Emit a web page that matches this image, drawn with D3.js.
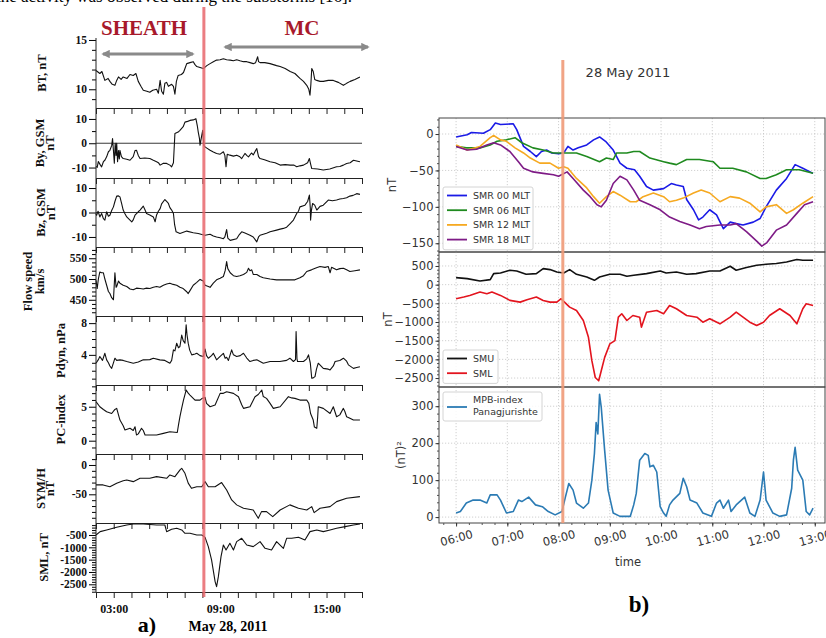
<!DOCTYPE html>
<html><head><meta charset="utf-8">
<script src="https://cdn.jsdelivr.net/npm/d3@7/dist/d3.min.js"></script>
<style>
body{margin:0;background:#fff}
svg{display:block}
</style></head><body>
<svg width="826" height="638"></svg>
<script>
// ---------- data, left figure: [minute of day, value] ----------
var bt = [[120,11.9],[133,11.6],[140,11.8],[150,10.9],[161,11.1],[167,10.8],[175,10.5],[184,10.4],[190,10.9],[196,11.25],[205,11.0],[212,11.25],[225,11.1],[235,11.5],[246,11.4],[255,11.6],[263,10.8],[272,10.3],[280,9.9],[292,9.8],[302,9.7],[312,9.9],[325,10.0],[331,9.6],[337,10.9],[342,9.8],[348,9.5],[353,10.6],[359,10.7],[365,10.3],[376,10.5],[382,10.3],[387,9.5],[392,10.8],[398,11.4],[409,11.5],[416,11.7],[421,12.1],[427,12.6],[438,12.7],[449,12.8],[455,12.5],[461,12.3],[472,12.2],[483,12.1],[495,12.4],[506,12.6],[517,12.8],[528,12.96],[540,13.0],[551,13.1],[562,13.0],[574,12.96],[585,12.9],[596,13.0],[607,12.9],[619,12.8],[630,12.8],[641,12.7],[652,12.6],[660,12.7],[667,13.3],[670,12.8],[675,12.7],[691,12.7],[709,12.6],[731,12.4],[743,12.3],[760,12.1],[777,11.8],[793,11.6],[810,11.1],[822,10.8],[833,10.4],[840,10.0],[844,9.4],[847,10.5],[850,12.1],[855,11.8],[860,11.0],[867,10.9],[878,10.8],[889,10.8],[906,10.9],[923,10.9],[940,10.7],[957,10.4],[968,10.6],[980,10.8],[996,11.0],[1013,11.25]];
var by = [[120,-9.5],[124,-9.9],[128,-7.5],[134,-8.8],[139,-9.7],[145,-7.6],[150,-7.0],[156,-5.6],[162,-3.5],[167,-2.9],[173,-1.0],[176,1.9],[179,-3.0],[182,-8.2],[185,0.0],[188,-5.0],[190,0.0],[193,-7.6],[196,-3.0],[199,-6.5],[201,-2.9],[206,-5.5],[212,-6.3],[224,-6.6],[235,-7.0],[246,-5.5],[252,-3.0],[257,-2.9],[263,-5.0],[269,-6.3],[285,-6.1],[302,-6.3],[314,-7.0],[325,-7.6],[331,-8.0],[337,-9.0],[348,-8.2],[359,-8.3],[370,-9.0],[376,-9.7],[382,-8.0],[387,4.0],[398,4.6],[404,5.3],[415,6.8],[421,8.7],[430,9.0],[438,9.4],[449,9.6],[458,10.1],[463,7.0],[466,4.6],[470,2.0],[472,-0.8],[476,2.0],[481,5.3],[485,-1.0],[489,-1.5],[495,-2.0],[506,-2.9],[517,-3.6],[528,-4.2],[540,-4.5],[551,-3.5],[556,-5.0],[560,-9.7],[564,-4.5],[573,-4.9],[585,-5.3],[596,-4.9],[607,-5.6],[613,-6.3],[624,-4.2],[630,-5.0],[636,-5.6],[646,-4.0],[652,-4.8],[660,-3.0],[664,-2.2],[670,-5.5],[675,-6.3],[690,-6.8],[709,-7.6],[726,-8.0],[743,-9.0],[760,-8.8],[777,-9.0],[790,-9.0],[799,-9.7],[810,-9.3],[822,-9.0],[836,-8.0],[842,-6.3],[847,-9.0],[850,-10.4],[870,-10.6],[889,-11.0],[911,-10.6],[934,-9.7],[945,-9.6],[957,-9.0],[968,-8.3],[980,-8.0],[991,-7.0],[1002,-7.3],[1013,-7.6]];
var bz = [[120,-0.5],[122,-1.1],[127,0.5],[133,-1.8],[139,-0.4],[145,-2.5],[150,-3.1],[156,0.3],[162,-1.5],[167,-1.1],[173,0.8],[179,2.3],[184,4.5],[190,6.7],[196,6.8],[201,6.4],[207,3.5],[212,1.0],[218,-0.5],[224,-1.8],[230,-2.5],[241,-3.8],[246,-3.0],[252,-1.1],[263,0.3],[269,1.0],[280,2.6],[286,1.0],[291,-0.4],[302,-1.0],[314,-1.8],[320,-3.8],[325,-1.0],[331,0.5],[337,1.6],[342,3.5],[353,5.3],[359,4.5],[365,3.7],[370,2.0],[376,1.0],[382,-0.4],[386,-5.0],[391,-7.9],[404,-8.6],[427,-7.6],[449,-8.3],[466,-8.6],[478,-9.0],[489,-9.3],[506,-8.9],[517,-9.6],[528,-10.0],[540,-10.3],[551,-10.7],[556,-10.0],[562,-7.0],[566,-10.5],[574,-11.4],[596,-10.7],[605,-9.0],[613,-7.9],[624,-8.4],[641,-9.3],[652,-10.0],[664,-12.0],[670,-10.0],[675,-9.3],[697,-8.5],[709,-7.9],[731,-7.2],[743,-6.8],[754,-6.5],[765,-6.0],[777,-4.5],[788,-3.1],[799,-0.4],[805,0.5],[810,2.3],[827,3.0],[836,4.5],[842,7.1],[845,2.0],[846,-3.1],[849,1.0],[853,3.7],[860,3.0],[867,1.0],[878,2.5],[889,3.0],[906,5.1],[920,4.8],[934,5.1],[945,5.5],[957,5.7],[968,6.0],[979,6.7],[990,7.0],[1002,7.7],[1013,7.4]];
var flow = [[120,497],[124,477],[128,500],[133,517],[139,515],[145,515],[150,500],[156,485],[162,470],[167,465],[173,455],[179,450],[184,515],[188,480],[190,482],[196,495],[201,490],[212,485],[224,482],[235,476],[246,474],[257,478],[269,477],[280,476],[291,478],[302,477],[314,480],[325,482],[336,480],[348,485],[359,488],[370,490],[381,487],[393,485],[404,480],[415,477],[426,470],[432,465],[438,472],[449,485],[461,492],[472,499],[483,495],[489,485],[500,482],[506,480],[517,490],[528,498],[540,502],[551,506],[557,520],[562,542],[566,525],[574,515],[585,508],[596,506],[607,508],[619,511],[630,516],[636,526],[641,520],[647,522],[652,511],[664,511],[675,506],[686,503],[709,500],[731,498],[754,498],[776,498],[793,498],[810,503],[822,508],[833,518],[849,522],[866,527],[878,530],[895,528],[906,530],[912,515],[917,528],[934,522],[945,525],[957,526],[968,522],[979,518],[996,520],[1013,522]];
var pdyn = [[120,2.95],[128,3.4],[133,3.8],[142,3.3],[150,4.2],[156,3.37],[162,3.0],[167,2.6],[173,2.3],[179,3.0],[184,3.58],[190,3.3],[201,3.37],[212,3.3],[224,3.16],[246,2.95],[263,3.1],[280,3.37],[302,3.4],[314,3.58],[336,3.37],[353,3.3],[370,2.95],[376,3.3],[382,4.63],[387,4.5],[393,5.47],[399,4.9],[404,5.05],[410,6.5],[415,5.8],[421,5.47],[425,7.8],[428,6.5],[432,5.47],[437,4.6],[444,4.0],[455,4.1],[461,4.2],[472,3.9],[483,3.79],[489,4.72],[494,3.9],[500,3.58],[511,3.9],[517,4.2],[528,3.37],[540,3.8],[551,4.2],[557,3.58],[562,3.7],[568,3.3],[579,4.63],[585,4.0],[596,3.79],[608,3.9],[619,4.2],[630,3.6],[641,3.16],[652,3.3],[664,3.37],[675,3.16],[686,2.95],[709,3.16],[742,3.16],[765,3.3],[776,3.58],[788,3.16],[795,3.4],[797,6.95],[800,3.5],[802,3.16],[822,3.16],[833,3.5],[839,4.0],[845,3.0],[850,1.05],[855,1.1],[861,1.26],[866,2.2],[872,2.95],[889,2.3],[906,2.2],[912,2.1],[923,2.6],[929,3.16],[945,3.3],[957,3.58],[968,3.2],[974,2.74],[991,2.3],[1002,2.4],[1013,2.5]];
var pc = [[120,5.74],[133,5.0],[145,4.6],[156,4.26],[173,4.0],[184,4.6],[190,4.76],[201,3.04],[212,2.2],[218,1.57],[235,1.82],[246,1.5],[252,2.06],[257,0.84],[263,1.0],[274,1.82],[280,1.5],[286,0.84],[302,0.84],[325,0.84],[348,1.08],[370,1.32],[395,1.2],[399,2.3],[404,3.53],[410,4.8],[416,5.98],[425,7.46],[432,7.0],[438,6.72],[455,5.98],[472,5.98],[478,6.2],[489,6.37],[494,5.5],[506,5.0],[523,5.25],[540,6.97],[551,6.97],[562,7.2],[585,6.97],[602,6.48],[613,5.3],[619,4.76],[641,5.0],[658,6.48],[669,6.8],[681,7.46],[686,6.5],[697,6.23],[709,5.5],[720,4.76],[743,5.0],[771,6.48],[782,6.3],[793,6.23],[810,5.98],[833,5.98],[840,5.5],[846,4.0],[855,3.04],[859,2.0],[867,1.82],[870,3.5],[872,5.0],[889,4.76],[912,4.0],[923,5.0],[934,3.53],[945,3.8],[957,4.76],[962,4.3],[968,3.53],[979,3.3],[991,3.04],[1013,3.04]];
var symh = [[120,-34],[144,-34],[167,-37],[190,-31],[212,-27],[224,-25.6],[246,-28.4],[269,-22.7],[302,-22.7],[325,-19.9],[359,-22.7],[370,-17],[387,-19.9],[405,-8],[410,-5.7],[421,-14.2],[432,-31],[443,-39.8],[461,-37],[478,-37],[489,-28.4],[500,-37],[523,-37],[545,-30],[562,-42.6],[579,-59.6],[596,-68],[619,-73.8],[652,-76.7],[669,-90.9],[680,-79.5],[697,-79.5],[718,-88],[743,-76.7],[776,-68],[805,-73.8],[833,-76.7],[850,-71],[858,-81.2],[878,-73.8],[912,-71],[934,-62.5],[968,-56.8],[1013,-54]];
var smlA = [[120,-500],[134,-365],[156,-297],[190,-189],[224,-95],[246,-54],[280,-54],[325,-95],[353,-95],[359,-365],[376,-270],[393,-230],[410,-297],[421,-432],[438,-432],[461,-500],[478,-500],[489,-595],[500,-973],[511,-1512],[523,-2390],[528,-2594],[534,-2189],[543,-1379],[551,-905],[560,-1107],[573,-835],[585,-1107],[596,-770],[613,-635],[630,-905],[652,-973],[675,-770],[692,-1040],[714,-1107],[731,-770],[754,-1040],[765,-635],[782,-635],[805,-595],[827,-703],[844,-365],[867,-297],[889,-365],[912,-297],[934,-230],[963,-162],[991,-95],[1013,-54]];

// ---------- data, right figure ----------
var smr00 = [[360,-4],[373,-1],[378,2],[392,1],[400,6],[406,15],[412,13],[427,14],[431,6],[439,-17],[447,-24],[454,-31],[460,-24],[466,-22],[472,-26],[480,-27],[486,-26],[491,-17],[497,-22],[503,-19],[513,-15],[521,-8],[528,-4],[535,-10],[544,-22],[552,-40],[560,-47],[569,-49],[575,-58],[583,-72],[591,-77],[603,-75],[612,-68],[618,-70],[626,-72],[630,-90],[638,-104],[644,-118],[649,-114],[657,-104],[665,-111],[673,-130],[681,-121],[688,-123],[696,-125],[708,-121],[716,-116],[723,-100],[735,-77],[747,-61],[757,-42],[766,-47],[778,-54]];
var smr06 = [[360,-17],[372,-19],[388,-19],[400,-15],[408,-10],[419,-8],[429,-5],[437,-12],[450,-19],[462,-22],[474,-26],[486,-26],[501,-26],[513,-31],[528,-38],[536,-33],[544,-35],[548,-26],[560,-26],[568,-24],[575,-24],[587,-33],[603,-38],[610,-40],[618,-42],[630,-35],[645,-35],[661,-38],[669,-47],[684,-47],[700,-52],[716,-61],[723,-61],[735,-56],[747,-49],[762,-49],[778,-54]];
var smr12 = [[360,-15],[373,-22],[388,-17],[400,-5],[404,-2],[412,-8],[419,-10],[429,-19],[439,-26],[447,-33],[458,-40],[470,-40],[480,-47],[486,-45],[491,-47],[501,-61],[513,-74],[521,-86],[528,-95],[536,-86],[544,-79],[552,-84],[564,-93],[571,-93],[579,-86],[591,-81],[603,-86],[610,-93],[618,-91],[626,-88],[638,-81],[647,-77],[657,-81],[669,-93],[681,-86],[692,-88],[704,-95],[716,-107],[723,-100],[735,-97],[747,-109],[755,-104],[766,-95],[778,-86]];
var smr18 = [[360,-17],[373,-22],[384,-21],[396,-15],[404,-12],[412,-15],[423,-24],[433,-38],[439,-47],[450,-52],[462,-54],[474,-56],[480,-58],[490,-52],[497,-61],[509,-77],[517,-86],[525,-97],[530,-100],[536,-91],[544,-68],[552,-58],[560,-63],[568,-77],[575,-91],[587,-97],[599,-104],[610,-114],[622,-120],[634,-125],[645,-130],[653,-127],[669,-125],[681,-125],[688,-123],[700,-134],[712,-147],[718,-154],[724,-149],[735,-132],[747,-125],[759,-109],[768,-97],[778,-93]];
var smu = [[360,188],[373,161],[388,97],[400,134],[404,296],[412,312],[423,385],[431,366],[442,277],[454,296],[462,430],[470,403],[478,339],[486,312],[493,403],[501,277],[513,204],[522,116],[528,204],[540,277],[552,277],[560,223],[568,250],[583,296],[599,366],[606,312],[618,339],[630,277],[641,296],[657,366],[669,366],[681,492],[688,385],[700,457],[712,519],[723,546],[735,565],[747,608],[759,672],[766,654],[778,654]];
var smlB = [[360,-377],[369,-333],[376,-288],[388,-199],[396,-242],[402,-199],[412,-288],[423,-422],[435,-468],[443,-404],[454,-333],[462,-422],[470,-468],[478,-468],[483,-377],[486,-449],[493,-602],[501,-691],[509,-960],[515,-1409],[519,-2036],[523,-2485],[527,-2574],[530,-2306],[534,-1947],[540,-1587],[546,-1498],[550,-871],[554,-780],[560,-960],[567,-826],[575,-871],[577,-1140],[583,-737],[595,-691],[603,-780],[610,-557],[618,-646],[630,-826],[642,-871],[649,-1005],[657,-915],[669,-1049],[681,-871],[688,-737],[696,-871],[704,-1005],[712,-1095],[720,-1005],[727,-826],[739,-646],[751,-826],[759,-1049],[766,-646],[770,-511],[778,-557]];
var mpb = [[360,11],[365,15],[372,38],[380,46],[388,46],[396,38],[400,60],[408,60],[412,46],[419,11],[427,15],[433,46],[437,42],[445,54],[453,33],[461,28],[468,15],[476,6],[484,15],[488,54],[492,91],[497,73],[501,38],[509,24],[515,38],[519,100],[522,172],[524,256],[526,225],[528,332],[530,297],[534,180],[538,73],[544,11],[552,2],[564,2],[568,33],[571,64],[575,154],[581,172],[585,167],[587,136],[591,140],[595,122],[599,28],[603,11],[606,2],[610,33],[614,46],[622,64],[626,105],[630,82],[634,46],[642,38],[649,11],[659,2],[665,38],[669,46],[673,24],[679,46],[682,15],[688,33],[698,54],[704,11],[710,2],[716,46],[720,122],[723,46],[731,11],[739,2],[747,6],[753,78],[755,154],[757,189],[760,127],[766,100],[770,15],[774,6],[778,24]];

var smrNames = ["SMR 00 MLT", "SMR 06 MLT", "SMR 12 MLT", "SMR 18 MLT"];
var smNames = ["SMU", "SML"];
var mpbName = ["MPB-index", "Panagjurishte"];
var onset = 485; // 08:05, vertical line

var day = function(m) { return new Date(2011, 4, 28, 0, m); };
var svg = d3.select("svg");
var serif = "'Liberation Serif', 'DejaVu Serif', serif";
var sans = "'DejaVu Sans', sans-serif";

// cropped text line from the page above
svg.append("text").attr("x", -4).attr("y", 2).attr("font-family", serif).attr("font-size", 17)
  .text("the activity was observed during the substorms [16].");

// ================= a) =================
var xa = d3.scaleTime().domain([day(120), day(1020)]).range([96, 362]);

var leftPanels = [
  {data: bt,   y0: 38,  y1: 108, dom: [8.1, 15.2],    ticks: [10, 15],       step: 1,   lab: ["BT, nT"],            lx: [46]},
  {data: by,   y0: 108, y1: 178, dom: [-14.3, 14.5],  ticks: [-10, 0, 10],   step: 5,   lab: ["By, GSM", "nT"],     lx: [44, 54], zero: true},
  {data: bz,   y0: 178, y1: 247, dom: [-14.1, 14.1],  ticks: [-10, 0, 10],   step: 5,   lab: ["Bz, GSM", "nT"],     lx: [45, 55], zero: true},
  {data: flow, y0: 247, y1: 316, dom: [411, 577],     ticks: [450, 500, 550], step: 10, lab: ["Flow speed", "km/s"], lx: [32, 44]},
  {data: pdyn, y0: 316, y1: 385, dom: [0.2, 8.9],     ticks: [4, 8],         step: 1,   lab: ["Pdyn, nPa"],         lx: [65]},
  {data: pc,   y0: 385, y1: 454, dom: [-1.96, 8.2],   ticks: [0, 5],         step: 1,   lab: ["PC-index"],          lx: [65]},
  {data: symh, y0: 454, y1: 523, dom: [-98.9, 18.7],  ticks: [-50, 0],       step: 10,  lab: ["SYM/H", "nT"],       lx: [45, 54]},
  {data: smlA, y0: 523, y1: 592, dom: [-2812, -14],   ticks: [-2500, -2000, -1500, -1000, -500], step: 100, lab: ["SML, nT"], lx: [48]}
];

var ga = svg.append("g");
leftPanels.forEach(function(p) {
  var y = d3.scaleLinear().domain(p.dom).range([p.y1, p.y0]);
  var minor = d3.range(Math.ceil(p.dom[0] / p.step) * p.step, p.dom[1], p.step)
    .filter(function(v) { return p.ticks.indexOf(v) < 0; });

  ga.append("g").attr("transform", "translate(96,0)")
    .call(d3.axisLeft(y).tickValues(minor).tickSize(4).tickFormat("").tickSizeOuter(0))
    .call(function(g) { g.select(".domain").remove(); });
  var ax = ga.append("g").attr("transform", "translate(96,0)")
    .call(d3.axisLeft(y).tickValues(p.ticks).tickSize(7).tickPadding(2).tickSizeOuter(0)
      .tickFormat(function(d) { return String(d); }));
  ax.select(".domain").remove();
  ax.selectAll("text").attr("font-family", serif).attr("font-weight", "bold").attr("font-size", 11.5).attr("fill", "#111");

  if (p.zero) {
    ga.append("line").attr("x1", 96).attr("x2", 362).attr("y1", y(0)).attr("y2", y(0))
      .attr("stroke", "#222").attr("stroke-width", 0.9);
  }

  ga.append("path").datum(p.data)
    .attr("fill", "none").attr("stroke", "#111").attr("stroke-width", 1.1).attr("stroke-linejoin", "round")
    .attr("d", d3.line().x(function(d) { return xa(day(d[0])); }).y(function(d) { return y(d[1]); }));

  // separator with hourly ticks pointing down
  var sep = ga.append("g").attr("transform", "translate(0," + p.y1 + ")")
    .call(d3.axisBottom(xa).ticks(d3.timeHour.every(1)).tickSize(6).tickSizeOuter(0).tickPadding(6)
      .tickFormat(function(d) { return p.y1 === 592 && d.getHours() % 6 === 3 ? d3.timeFormat("%H:%M")(d) : ""; }));
  sep.select(".domain").attr("stroke", "#222");
  sep.selectAll("line").attr("stroke", "#222");
  sep.selectAll("text").attr("font-family", serif).attr("font-weight", "bold").attr("font-size", 12).attr("fill", "#111");

  var t = ga.append("text").attr("transform", "rotate(-90)")
    .attr("font-family", serif).attr("font-weight", "bold").attr("font-size", 12.5).attr("fill", "#111")
    .attr("text-anchor", "middle");
  p.lab.forEach(function(s, i) {
    t.append("tspan").attr("x", -(p.y0 + p.y1) / 2).attr("y", p.lx[i]).text(s);
  });
});
ga.append("line").attr("x1", 96).attr("x2", 96).attr("y1", 38).attr("y2", 592).attr("stroke", "#222");

// headers and arrows
var defs = svg.append("defs");
defs.append("marker").attr("id", "ah").attr("viewBox", "0 0 10 10").attr("refX", 8).attr("refY", 5)
  .attr("markerWidth", 3.6).attr("markerHeight", 3).attr("orient", "auto-start-reverse")
  .append("path").attr("d", "M0,0L10,5L0,10z").attr("fill", "#8a8a8a");
[[103, 193, 54], [225, 368, 47]].forEach(function(a) {
  svg.append("line").attr("x1", a[0]).attr("x2", a[1]).attr("y1", a[2]).attr("y2", a[2])
    .attr("stroke", "#8a8a8a").attr("stroke-width", 2.8)
    .attr("marker-start", "url(#ah)").attr("marker-end", "url(#ah)");
});
svg.append("text").attr("x", 144).attr("y", 35).attr("text-anchor", "middle").attr("font-family", serif)
  .attr("font-weight", "bold").attr("font-size", 21).attr("fill", "#a8192b").text("SHEATH");
svg.append("text").attr("x", 302).attr("y", 35).attr("text-anchor", "middle").attr("font-family", serif)
  .attr("font-weight", "bold").attr("font-size", 21).attr("fill", "#a8192b").text("MC");

svg.append("line").attr("x1", xa(day(onset))).attr("x2", xa(day(onset))).attr("y1", 7).attr("y2", 597)
  .attr("stroke", "#e8666c").attr("stroke-opacity", 0.85).attr("stroke-width", 3);

svg.append("text").attr("x", 147).attr("y", 632).attr("text-anchor", "middle").attr("font-family", serif)
  .attr("font-weight", "bold").attr("font-size", 22).text("a)");
svg.append("text").attr("x", 228).attr("y", 631).attr("text-anchor", "middle").attr("font-family", serif)
  .attr("font-weight", "bold").attr("font-size", 14).text("May 28, 2011");

// ================= b) =================
var xb = d3.scaleTime().domain([day(340), day(792)]).range([439, 825]);
var line = function(y) {
  return d3.line().x(function(d) { return xb(day(d[0])); }).y(function(d) { return y(d[1]); });
};

var rightPanels = [
  {y0: 118, y1: 252, dom: [-162, 22],    ticks: [-150, -100, -50, 0], step: 10, lab: "nT", lx: 396,
   series: [smr00, smr06, smr12, smr18], colors: ["#1a1ae6", "#1f8a1f", "#f6a921", "#7e1b86"], names: smrNames},
  {y0: 252, y1: 387, dom: [-2740, 874],  ticks: d3.range(-2500, 501, 500), step: 100, lab: "nT", lx: 392,
   series: [smu, smlB], colors: ["#111111", "#e3141e"], names: smNames},
  {y0: 387, y1: 523, dom: [-16, 352],    ticks: [0, 100, 200, 300], step: 20, lab: "(nT)²", lx: 405,
   series: [mpb], colors: ["#2b7bb4"], names: [mpbName]}
];

var gb = svg.append("g");
rightPanels.forEach(function(p, k) {
  var y = d3.scaleLinear().domain(p.dom).range([p.y1, p.y0]);
  // grid
  gb.append("g").selectAll("line").data(d3.timeHour.range(day(360), day(781)))
    .join("line").attr("x1", function(d) { return xb(d); }).attr("x2", function(d) { return xb(d); })
    .attr("y1", p.y0).attr("y2", p.y1).attr("stroke", "#c4c4c4").attr("stroke-dasharray", "1.2,1.8").attr("stroke-width", 0.8);
  gb.append("g").selectAll("line").data(p.ticks)
    .join("line").attr("x1", 439).attr("x2", 825).attr("y1", function(d) { return y(d); }).attr("y2", function(d) { return y(d); })
    .attr("stroke", "#c4c4c4").attr("stroke-dasharray", "1.2,1.8").attr("stroke-width", 0.8);

  var minor = d3.range(Math.ceil(p.dom[0] / p.step) * p.step, p.dom[1], p.step);
  gb.append("g").attr("transform", "translate(439,0)")
    .call(d3.axisLeft(y).tickValues(minor).tickSize(2).tickFormat("").tickSizeOuter(0))
    .call(function(g) { g.select(".domain").remove(); g.selectAll("line").attr("stroke", "#555"); });
  var ax = gb.append("g").attr("transform", "translate(439,0)")
    .call(d3.axisLeft(y).tickValues(p.ticks).tickSize(3.5).tickPadding(2).tickSizeOuter(0).tickFormat(d3.format("d")));
  ax.select(".domain").remove();
  ax.selectAll("line").attr("stroke", "#333");
  ax.selectAll("text").attr("font-family", sans).attr("font-size", 11.5).attr("fill", "#333");

  p.series.forEach(function(s, i) {
    gb.append("path").datum(s).attr("fill", "none").attr("stroke", p.colors[i])
      .attr("stroke-width", 1.6).attr("stroke-linejoin", "round").attr("d", line(y));
  });

  gb.append("rect").attr("x", 439).attr("y", p.y0).attr("width", 386).attr("height", p.y1 - p.y0)
    .attr("fill", "none").attr("stroke", "#444").attr("stroke-width", 1);

  gb.append("text").attr("transform", "translate(" + p.lx + "," + (p.y0 + p.y1) / 2 + ") rotate(-90)")
    .attr("text-anchor", "middle").attr("font-family", sans).attr("font-size", 11.5).attr("fill", "#333").text(p.lab);

  // legend
  var rows = p.names.length, multi = k === 2;
  var lh = multi ? 29 : rows * 14.7 + 4;
  var lw = multi ? 99 : (k === 0 ? 90 : 55);
  var ly = k === 0 ? 187 : (k === 1 ? 350 : 392);
  var lg = gb.append("g").attr("transform", "translate(443," + ly + ")");
  lg.append("rect").attr("width", lw).attr("height", lh).attr("rx", 2)
    .attr("fill", "#fff").attr("fill-opacity", 0.85).attr("stroke", "#d4d4d4");
  p.names.forEach(function(n, i) {
    var yy = multi ? 15 : 8.5 + i * 14.7;
    lg.append("line").attr("x1", 4).attr("x2", 24).attr("y1", yy).attr("y2", yy)
      .attr("stroke", p.colors[i]).attr("stroke-width", 1.8);
    var t = lg.append("text").attr("font-family", sans).attr("font-size", 9.5).attr("fill", "#333");
    if (multi) {
      t.append("tspan").attr("x", 30).attr("y", 11).text(n[0]);
      t.append("tspan").attr("x", 30).attr("y", 23).text(n[1]);
    } else {
      t.attr("x", 30).attr("y", yy + 3.4).text(n);
    }
  });
});

// bottom time axis
var xt = gb.append("g").attr("transform", "translate(0,523)");
xt.call(d3.axisBottom(xb).ticks(d3.timeMinute.every(15)).tickSize(2).tickFormat("").tickSizeOuter(0))
  .call(function(g) { g.select(".domain").remove(); g.selectAll("line").attr("stroke", "#555"); });
var xt2 = gb.append("g").attr("transform", "translate(0,523)")
  .call(d3.axisBottom(xb).tickValues(d3.timeHour.range(day(360), day(781))).tickSize(3.5).tickSizeOuter(0)
    .tickFormat(d3.timeFormat("%H:%M")));
xt2.select(".domain").remove();
xt2.selectAll("line").attr("stroke", "#333");
xt2.selectAll("text").attr("y", 0).attr("dy", "0.35em").attr("transform", "translate(0,15) rotate(-15)")
  .attr("font-family", sans).attr("font-size", 11.5).attr("fill", "#333");

svg.append("text").attr("x", 628).attr("y", 566).attr("text-anchor", "middle").attr("font-family", sans)
  .attr("font-size", 11.5).attr("fill", "#333").text("time");
svg.append("text").attr("x", 628).attr("y", 77).attr("text-anchor", "middle").attr("font-family", sans)
  .attr("font-size", 13).attr("fill", "#333").text("28 May 2011");

svg.append("line").attr("x1", xb(day(onset))).attr("x2", xb(day(onset))).attr("y1", 60).attr("y2", 523)
  .attr("stroke", "#f09a78").attr("stroke-opacity", 0.9).attr("stroke-width", 3);

svg.append("text").attr("x", 639).attr("y", 612).attr("text-anchor", "middle").attr("font-family", serif)
  .attr("font-weight", "bold").attr("font-size", 23).text("b)");
</script>
</body></html>
